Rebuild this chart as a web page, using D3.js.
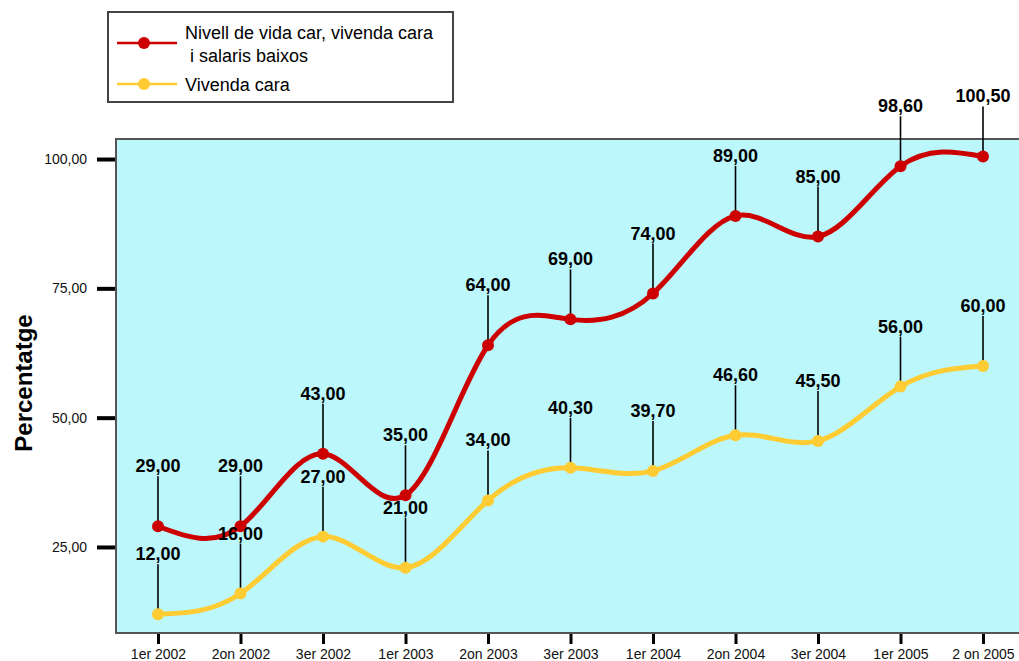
<!DOCTYPE html>
<html>
<head>
<meta charset="utf-8">
<script src="https://cdn.jsdelivr.net/npm/d3@7"></script>
<style>
  html, body { margin: 0; padding: 0; background: #ffffff; }
  svg { display: block; font-family: "Liberation Sans", Arial, sans-serif; }
</style>
</head>
<body>
<svg id="chart" width="1019" height="661"></svg>
<script>
// ---- data ----
const categories = ["1er 2002", "2on 2002", "3er 2002", "1er 2003", "2on 2003", "3er 2003",
                    "1er 2004", "2on 2004", "3er 2004", "1er 2005", "2 on 2005"];
const seriesNames = ["Nivell de vida car, vivenda cara\n i salaris baixos", "Vivenda cara"];
const redValues = [29.00, 29.00, 43.00, 35.00, 64.00, 69.00, 74.00, 89.00, 85.00, 98.60, 100.50];
const yellowValues = [12.00, 16.00, 27.00, 21.00, 34.00, 40.30, 39.70, 46.60, 45.50, 56.00, 60.00];
const yTicks = [25, 50, 75, 100];
const yTitle = "Percentatge";

const colors = ["#cc0000", "#ffcc33"];
const series = [
  { name: seriesNames[0], values: redValues, color: colors[0] },
  { name: seriesNames[1], values: yellowValues, color: colors[1] }
];

const svg = d3.select("#chart");
const plot = { left: 116, right: 1019, top: 139, bottom: 633 };

const x = d3.scalePoint().domain(categories).range([158, 983]);
const y = d3.scaleLinear().domain([8.37, 103.87]).range([plot.bottom, plot.top]);
const fmt = v => d3.format(".2f")(v).replace(".", ",");

// plot background
svg.append("rect")
  .attr("x", plot.left).attr("y", plot.top)
  .attr("width", plot.right - plot.left + 2).attr("height", plot.bottom - plot.top)
  .attr("fill", "#bbf7fb")
  .attr("stroke", "#555").attr("stroke-width", 2);

// y axis
const yAxis = d3.axisLeft(y).tickValues(yTicks).tickSize(18).tickPadding(10).tickFormat(fmt);
const gy = svg.append("g").attr("transform", `translate(${plot.left - 1},0)`).call(yAxis);
gy.select(".domain").remove();
gy.selectAll(".tick line").attr("stroke", "#000").attr("stroke-width", 4);
gy.selectAll(".tick text").attr("font-size", 14).attr("fill", "#111")
  .style("font-family", "'Liberation Sans', Arial, sans-serif");

// x axis
const xAxis = d3.axisBottom(x).tickSize(10).tickPadding(5);
const gx = svg.append("g").attr("transform", `translate(0,${plot.bottom + 1})`).call(xAxis);
gx.select(".domain").remove();
gx.selectAll(".tick line").attr("stroke", "#000").attr("stroke-width", 3);
gx.selectAll(".tick text").attr("font-size", 14).attr("fill", "#111")
  .style("font-family", "'Liberation Sans', Arial, sans-serif");

// y title
svg.append("text")
  .attr("transform", "translate(32,383) rotate(-90)")
  .attr("text-anchor", "middle")
  .attr("font-size", 24).attr("font-weight", "bold").attr("fill", "#000")
  .text(yTitle);

// lines
const line = d3.line()
  .x((d, i) => x(categories[i]))
  .y(d => y(d))
  .curve(d3.curveNatural);

series.forEach(s => {
  svg.append("path")
    .datum(s.values)
    .attr("d", line)
    .attr("fill", "none")
    .attr("stroke", s.color)
    .attr("stroke-width", 5)
    .attr("stroke-linejoin", "round")
    .attr("stroke-linecap", "round");
});

// markers and labels
series.forEach(s => {
  const g = svg.append("g");
  g.selectAll("line.leader").data(s.values).join("line")
    .attr("x1", (d, i) => x(categories[i])).attr("x2", (d, i) => x(categories[i]))
    .attr("y1", d => y(d)).attr("y2", d => y(d) - 50)
    .attr("stroke", "#000").attr("stroke-width", 1.6);
  g.selectAll("circle").data(s.values).join("circle")
    .attr("cx", (d, i) => x(categories[i])).attr("cy", d => y(d))
    .attr("r", 6).attr("fill", s.color);
});
series.forEach(s => {
  svg.append("g").selectAll("text").data(s.values).join("text")
    .attr("x", (d, i) => x(categories[i])).attr("y", d => y(d) - 54)
    .attr("text-anchor", "middle")
    .attr("font-size", 18).attr("font-weight", "bold").attr("fill", "#000")
    .text(d => fmt(d));
});

// legend
const lg = svg.append("g");
lg.append("rect").attr("x", 108).attr("y", 12).attr("width", 345).attr("height", 90)
  .attr("fill", "#fff").attr("stroke", "#444").attr("stroke-width", 2);
const legendRows = [
  { lines: seriesNames[0].split("\n"), color: colors[0], ly: 43, ty: 39, dx: [185, 185] },
  { lines: seriesNames[1].split("\n"), color: colors[1], ly: 84, ty: 91, dx: [185] }
];
legendRows.forEach(r => {
  lg.append("line").attr("x1", 117).attr("x2", 177).attr("y1", r.ly).attr("y2", r.ly)
    .attr("stroke", r.color).attr("stroke-width", 2.5);
  lg.append("circle").attr("cx", 144).attr("cy", r.ly).attr("r", 6).attr("fill", r.color);
  r.lines.forEach((t, j) => {
    lg.append("text").attr("x", r.dx[j]).attr("y", r.ty + j * 23)
      .attr("font-size", 18).attr("fill", "#000")
      .attr("xml:space", "preserve").style("white-space", "pre")
      .text(t);
  });
});
</script>
</body>
</html>
